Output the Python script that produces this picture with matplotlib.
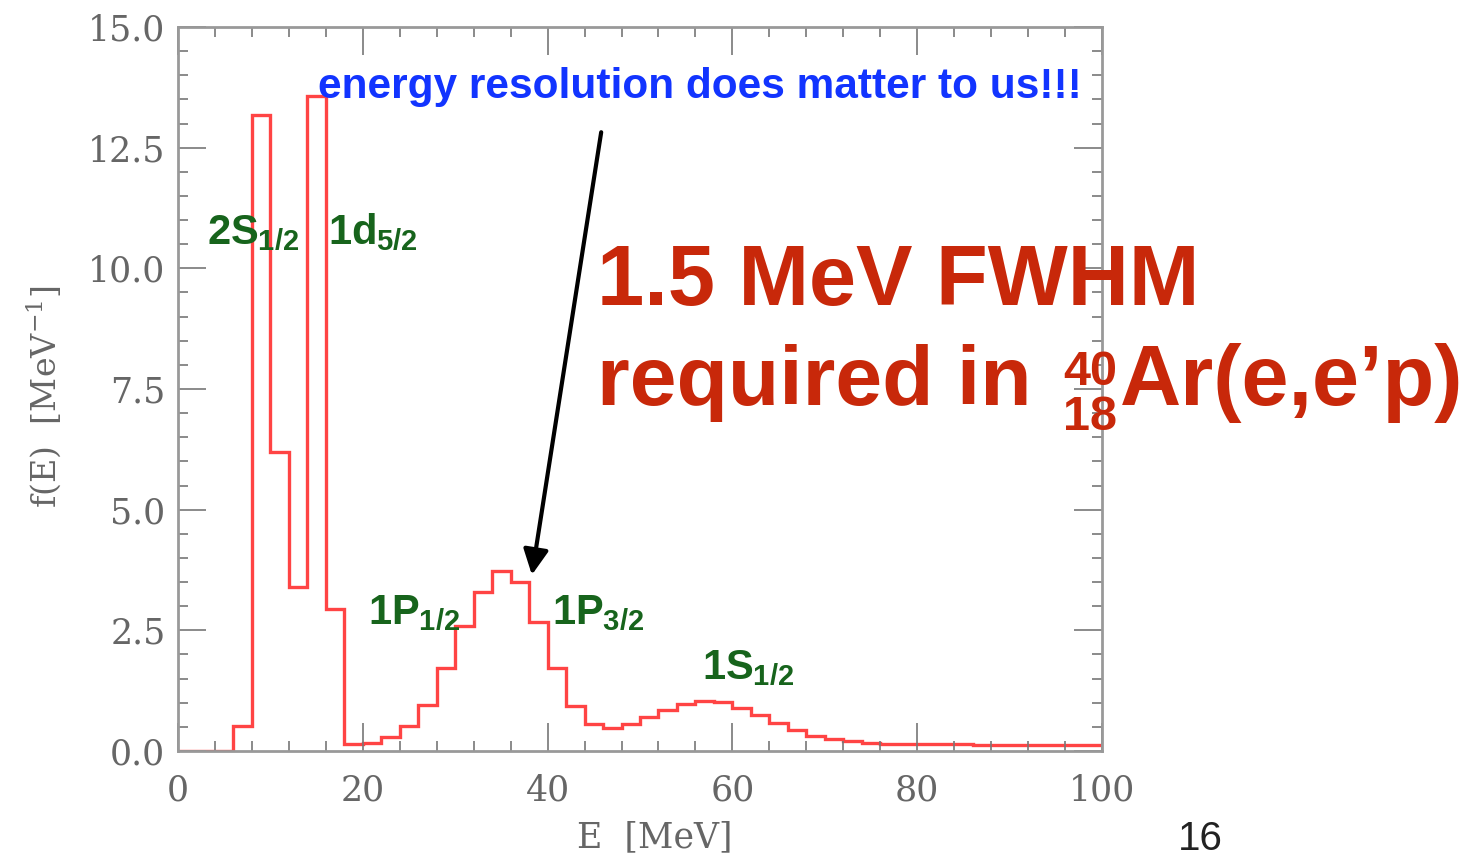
import matplotlib.pyplot as plt
import numpy as np

# f(E) histogram, 2 MeV bins from 0 to 100 MeV
bin_edges = np.arange(0, 102, 2)
f_values = [0.0, 0.0, 0.0, 0.52, 13.18, 6.20, 3.40, 13.58, 2.95, 0.15,
            0.17, 0.28, 0.52, 0.95, 1.71, 2.60, 3.30, 3.72, 3.50, 2.68,
            1.71, 0.93, 0.55, 0.47, 0.56, 0.70, 0.85, 0.98, 1.04, 1.02,
            0.90, 0.75, 0.59, 0.44, 0.31, 0.24, 0.20, 0.17, 0.15, 0.15,
            0.14, 0.14, 0.14, 0.13, 0.13, 0.13, 0.13, 0.12, 0.12, 0.12]

x_ticks = [0, 20, 40, 60, 80, 100]
y_ticks = [0.0, 2.5, 5.0, 7.5, 10.0, 12.5, 15.0]

shell_labels = [r"$2S_{1/2}$", r"$1d_{5/2}$", r"$1P_{1/2}$", r"$1P_{3/2}$", r"$1S_{1/2}$"]

W, H = 1462, 860


def px(x, y):
    # pixel position -> figure fraction
    return x / W, 1 - y / H


plt.rcParams["mathtext.fontset"] = "custom"
plt.rcParams["mathtext.rm"] = "Liberation Sans:bold"
plt.rcParams["mathtext.it"] = "Liberation Sans:bold"
plt.rcParams["mathtext.bf"] = "Liberation Sans:bold"

fig = plt.figure(figsize=(W / 100, H / 100), dpi=100)
ax = fig.add_axes([178 / W, 1 - 751 / H, 924 / W, 724 / H])

ax.stairs(f_values, bin_edges, color="#ff4444", lw=2.4, baseline=None)

ax.set_xlim(0, 100)
ax.set_ylim(0, 15)
ax.set_xticks(x_ticks)
ax.set_yticks(y_ticks)
ax.set_xticks(np.arange(0, 101, 4), minor=True)
ax.set_yticks(np.arange(0, 15.01, 0.5), minor=True)
ax.set_xticklabels([str(v) for v in x_ticks])
ax.set_yticklabels(["%.1f" % v for v in y_ticks])

gray = "#777777"
ax.tick_params(which="both", direction="in", top=True, right=True,
               color=gray, width=1.2)
ax.tick_params(which="major", length=20)
ax.tick_params(which="minor", length=7)
ax.tick_params(axis="x", pad=16, labelsize=25, labelcolor="#666666")
ax.tick_params(axis="y", pad=9, labelsize=25, labelcolor="#666666")
for lab in ax.get_xticklabels() + ax.get_yticklabels():
    lab.set_family("DejaVu Serif")
for s in ax.spines.values():
    s.set_color("#999999")
    s.set_linewidth(2)

ax.set_xlabel("E  [MeV]", family="DejaVu Serif", fontsize=25, color="#666666")
ax.xaxis.set_label_coords(0.516, -0.096)
ax.set_ylabel(r"f(E)  [MeV$^{-1}$]", family="DejaVu Serif", fontsize=24,
              color="#666666", math_fontfamily="dejavuserif")
ax.yaxis.set_label_coords(-0.1245, 0.49)

# shell labels
green = "#17641c"
label_pos = [(207, 244), (328, 244), (368, 624), (552, 624), (702, 679)]
for txt, (lx, ly) in zip(shell_labels, label_pos):
    fig.text(*px(lx, ly), txt, fontsize=30, color=green, va="baseline", ha="left")

# arrow
ax.annotate("", xy=(38.3, 3.65), xytext=(45.8, 12.82),
            arrowprops=dict(arrowstyle="-|>", color="black", lw=3,
                            mutation_scale=38, shrinkA=0, shrinkB=0),
            annotation_clip=False)

fig.text(*px(318, 98), "energy resolution does matter to us!!!",
         family="Liberation Sans", weight="bold", fontsize=30.5,
         color="#1234ff", va="baseline", ha="left")

red = "#c8280a"
fig.text(*px(597, 305), "1.5 MeV FWHM", family="Liberation Sans", weight="bold",
         fontsize=61, color=red, va="baseline", ha="left")
fig.text(*px(597, 405), "required in", family="Liberation Sans", weight="bold",
         fontsize=60.5, color=red, va="baseline", ha="left")
fig.text(*px(1063, 385), "40", family="Liberation Sans", weight="bold",
         fontsize=35, color=red, va="baseline", ha="left")
fig.text(*px(1063, 430), "18", family="Liberation Sans", weight="bold",
         fontsize=35, color=red, va="baseline", ha="left")
fig.text(*px(1120, 405), "Ar(e,e\u2019p)", family="Liberation Sans", weight="bold",
         fontsize=61, color=red, va="baseline", ha="left")

# slide number
fig.text(*px(1178, 850), "16", family="Liberation Sans", fontsize=29,
         color="#222222", va="baseline", ha="left")

fig.savefig("out.png", dpi=100)
